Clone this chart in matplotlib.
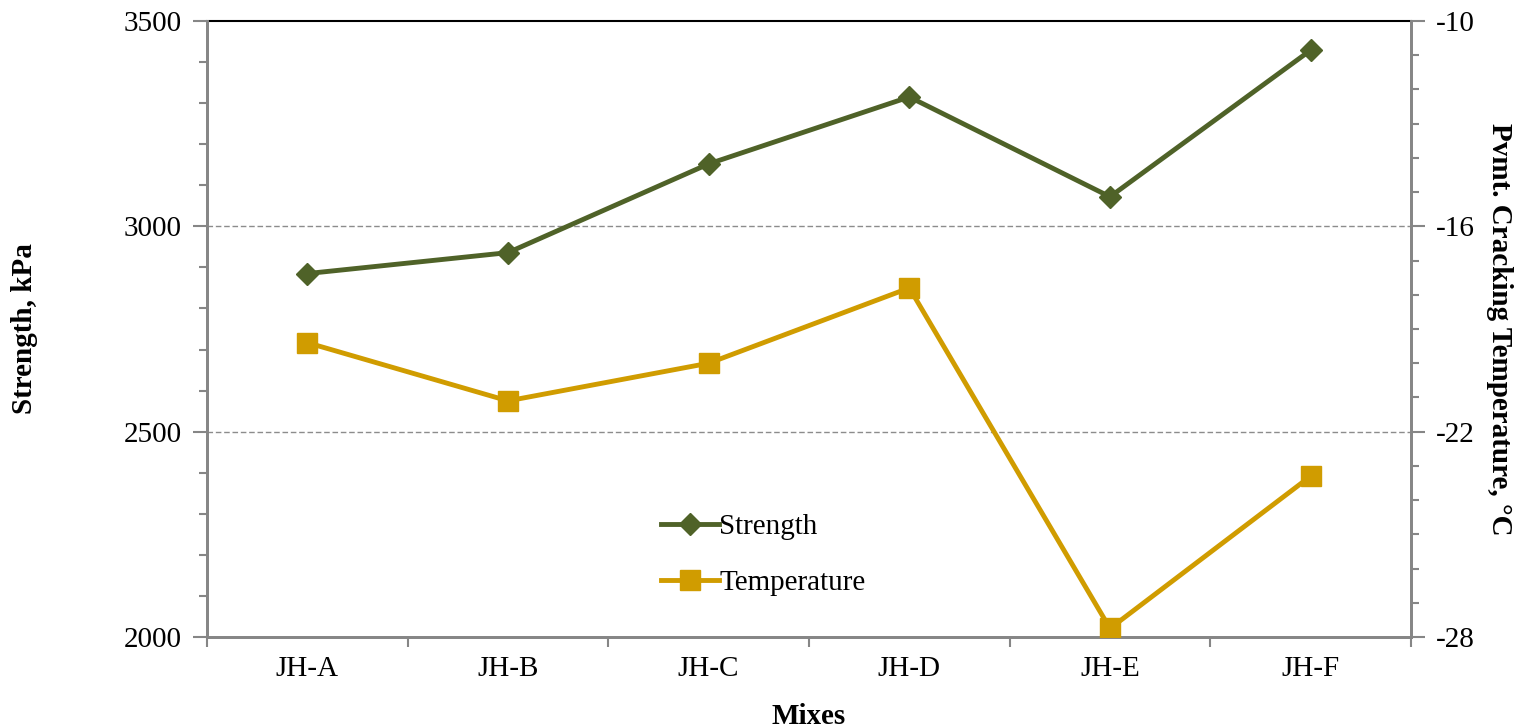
import numpy as np
import matplotlib.pyplot as plt
from matplotlib.ticker import MultipleLocator

plt.rcParams['font.family'] = ['Liberation Serif', 'DejaVu Serif']
plt.rcParams['axes.unicode_minus'] = False

mixes = ["JH-A", "JH-B", "JH-C", "JH-D", "JH-E", "JH-F"]
strength = [2885, 2936, 3152, 3315, 3072, 3429]
temperature = [-19.4, -21.1, -20.0, -17.8, -27.75, -23.3]

green = '#4F6228'
gold = '#D09C00'
grey = '#868686'

fig = plt.figure(figsize=(15.17, 7.28), dpi=100)
ax = fig.add_axes([207/1517, 1 - 637/728, (1411-207)/1517, (637-21)/728])
ax2 = ax.twinx()

x = np.arange(len(mixes))
l1, = ax.plot(x, strength, color=green, lw=3.5, marker='D', ms=11, zorder=5)
l2, = ax2.plot(x, temperature, color=gold, lw=3.5, marker='s', ms=14, zorder=5)

ax.set_xlim(-0.5, len(mixes) - 0.5)
ax.set_ylim(2000, 3500)
ax2.set_ylim(-28, -10)

ax.set_yticks([2000, 2500, 3000, 3500])
ax.yaxis.set_minor_locator(MultipleLocator(100))
ax2.set_yticks([-28, -22, -16, -10])
ax2.yaxis.set_minor_locator(MultipleLocator(1))

ax.set_xticks(x)
ax.set_xticklabels(mixes)
ax.set_xticks(np.arange(-0.5, len(mixes)), minor=True)
ax.tick_params(axis='x', which='major', length=0, pad=14, labelsize=21)
ax.tick_params(axis='x', which='minor', length=7, color=grey, width=1.5)
ax.tick_params(axis='y', which='both', color=grey, width=1.5, labelsize=21, pad=8)
ax.tick_params(axis='y', which='major', length=10)
ax.tick_params(axis='y', which='minor', length=6)
ax2.tick_params(axis='y', which='both', color=grey, width=1.5, labelsize=21, pad=8)
ax2.tick_params(axis='y', which='major', length=10)
ax2.tick_params(axis='y', which='minor', length=6)

for a in (ax, ax2):
    a.spines['top'].set_visible(False)
    for s in ('left', 'right', 'bottom'):
        a.spines[s].set_color(grey)
        a.spines[s].set_linewidth(2)

for v in (2500, 3000):
    ax.axhline(v, color='#8c8c8c', lw=1, ls=(0, (4, 2)), zorder=1)
ax.axhline(3500, color='black', lw=1.5, zorder=1, clip_on=False)

ax.set_xlabel("Mixes", fontsize=21, fontweight='bold', labelpad=15)
ax.set_ylabel("Strength, kPa", fontsize=21, fontweight='bold', labelpad=62)
ax2.set_ylabel("Pvmt. Cracking Temperature, °C", fontsize=21,
               fontweight='bold', rotation=-90, labelpad=8, va='bottom')

ax.legend([l1, l2], ["Strength", "Temperature"], loc='center left',
          bbox_to_anchor=(0.355, 0.133), frameon=False, fontsize=21,
          handlelength=2.0, handletextpad=0.0, labelspacing=1.0)

fig.savefig("out.png", dpi=100)
